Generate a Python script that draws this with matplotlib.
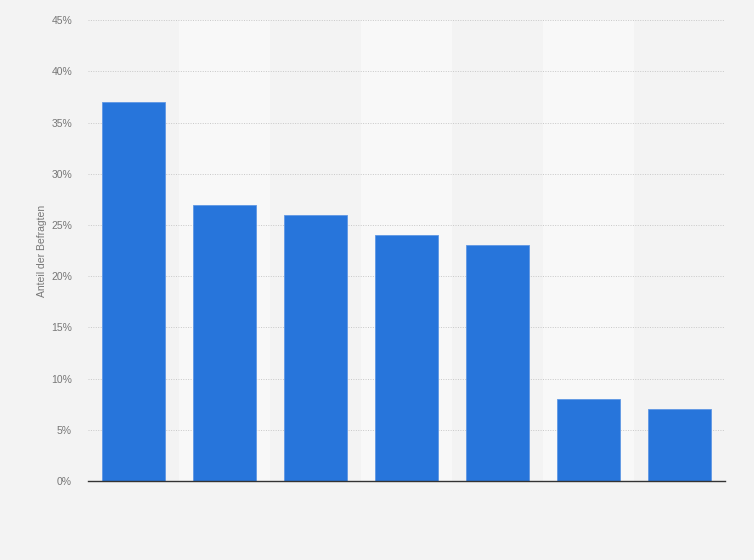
import matplotlib
matplotlib.use('Agg')
import matplotlib.pyplot as plt
import numpy

shares = [37, 27, 26, 24, 23, 8, 7]
y_ticks = [0, 5, 10, 15, 20, 25, 30, 35, 40, 45]
y_tick_labels = [f'{tick}%' for tick in y_ticks]

plt.rcParams['font.family'] = ['Liberation Sans', 'DejaVu Sans']

fig = plt.figure(figsize=(7.54, 5.6), dpi=100)
fig.patch.set_facecolor('#f3f3f3')
axes = fig.add_axes([0.1167, 0.141, 0.8448, 0.823])
axes.set_facecolor('#f3f3f3')

x_poss = numpy.arange(len(shares))
# alternating column bands
for pos in x_poss:
    if pos % 2 == 1:
        axes.axvspan(pos - 0.5, pos + 0.5, color='#f8f8f8', zorder=0, lw=0)

axes.bar(x_poss, shares, width=0.69, color='#2775db', edgecolor='#5f97e4',
         linewidth=0.6, zorder=3)

axes.set_xlim(-0.5, len(shares) - 0.5)
axes.set_ylim(0, 45)
axes.set_yticks(y_ticks)
axes.set_yticklabels(y_tick_labels, fontsize=7.5, color='#777777')
axes.set_xticks([])
axes.yaxis.grid(True, linestyle=(0, (1, 1.5)), color='#c8c8c8', linewidth=0.7, zorder=1)
axes.tick_params(axis='y', length=0, pad=11.5)
for side in ['top', 'right', 'left']:
    axes.spines[side].set_visible(False)
axes.spines['bottom'].set_color('#333333')
axes.spines['bottom'].set_linewidth(1.0)
axes.spines['bottom'].set_zorder(4)

axes.set_ylabel('Anteil der Befragten', fontsize=7.5, color='#777777', labelpad=3)

fig.savefig('out.png', dpi=100, facecolor=fig.get_facecolor())
